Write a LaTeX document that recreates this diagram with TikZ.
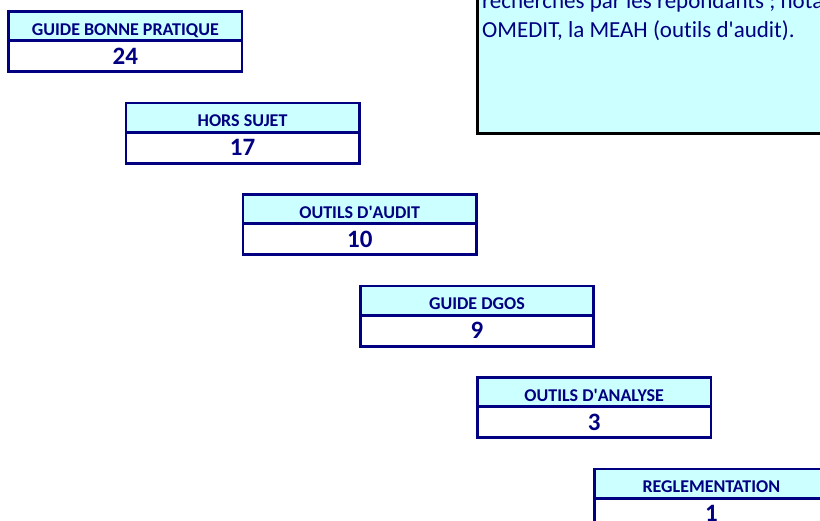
\documentclass[tikz,border=0pt]{standalone}
\usepackage{fontspec}
\setmainfont{Carlito}[Ligatures=NoCommon]
\definecolor{paleblue}{HTML}{CCFFFF}
\definecolor{inkblue}{HTML}{000080}
\tikzset{
  cellbox/.style={draw=inkblue, line width=2.6pt, minimum width=233.3pt, inner sep=0pt, outer sep=0pt, text=inkblue},
  titlecell/.style={cellbox, fill=paleblue, minimum height=29.4pt, text height=18.6pt, text depth=0pt, font=\fontsize{18}{20}\selectfont\bfseries},
  countcell/.style={cellbox, fill=white, minimum height=31pt, text height=15.6pt, text depth=0pt, font=\fontsize{25}{29}\selectfont\bfseries},
  notebox/.style={draw=black, line width=3pt, fill=paleblue},
  notetext/.style={text=inkblue, inner sep=0pt, anchor=base west, font=\fontsize{23}{27}\selectfont}
}
\begin{document}
\begin{tikzpicture}[x=1pt, y=-1pt]
    \useasboundingbox (0, 0) rectangle (820, 520);
    \clip (0, 0) rectangle (820, 520);
    % comment box, top right
    \draw[notebox] (477, 133) rectangle (830, -10);
    \node[notetext] (noteA) at (482, 8) {recherches par les répondants ; notamment};
    \node[notetext] (noteB) at (482, 37) {OMEDIT, la MEAH (outils d\textquotesingle audit).};
    % staircase of counts
    \foreach \lbl/\num [count=\i from 0] in {GUIDE BONNE PRATIQUE/24, HORS SUJET/17, OUTILS D\textquotesingle AUDIT/10, GUIDE DGOS/9, OUTILS D\textquotesingle ANALYSE/3, REGLEMENTATION/1} {
        \node[titlecell, anchor=north west] (title\i) at ({8.7 + 117.2 * \i}, {11.3 + 91.5 * \i}) {\lbl};
        \node[countcell, anchor=north] (count\i) at (title\i.south) {\num};
    };
\end{tikzpicture}
\end{document}
